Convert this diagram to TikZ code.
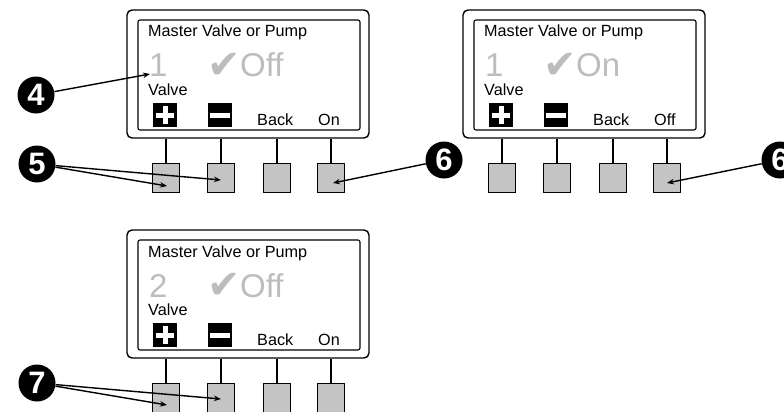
\documentclass[tikz,border=0pt]{standalone}
\usepackage{fontspec}
\setmainfont{Liberation Sans}
\newfontfamily\dejavu{DejaVu Sans}
\usetikzlibrary{arrows.meta}
\definecolor{lcdgray}{HTML}{BDBDBD}
\definecolor{btngray}{HTML}{C4C4C4}
\tikzset{
  outerframe/.style={draw, line width=1.4pt, rounded corners=5pt, minimum width=242pt, minimum height=128pt, inner sep=0pt},
  innerframe/.style={draw, line width=1.1pt, rounded corners=2pt, minimum width=222pt, minimum height=110pt, inner sep=0pt},
  btn/.style={draw, line width=1.1pt, fill=btngray, minimum width=27pt, minimum height=29pt, inner sep=0pt},
  stem/.style={line width=1.1pt},
  iconbox/.style={fill=black, minimum width=24pt, minimum height=24pt, inner sep=0pt},
  lbl/.style={anchor=base west, inner sep=0pt, font=\fontsize{16.2}{18}\selectfont},
  big/.style={anchor=base west, inner sep=0pt, text=lcdgray, font=\fontsize{33}{36}\selectfont},
  chk/.style={anchor=base west, inner sep=0pt, text=lcdgray, font=\dejavu\fontsize{40}{42}\selectfont},
  badge/.style={circle, fill=black, text=white, minimum size=37pt, inner sep=0pt, font=\fontsize{31}{32}\selectfont\bfseries},
  arr/.style={line width=1.4pt, -{Stealth[length=7pt,width=5.5pt]}}
}
\newcommand\mvpanel[6]{%
\begin{scope}[shift={(#2,#3)}]
  \node[outerframe] (#1frame) at (248,74) {};
  \node[innerframe] (#1screen) at (249,75) {};
  \node[lbl] (#1title) at (148,37) {Master Valve or Pump};
  \node[big] (#1num) at (149,77) {#4};
  \node[chk] (#1chk) at (207,78) {✔};
  \node[big] (#1stat) at (240,77) {#5};
  \node[lbl] (#1valve) at (148,95) {Valve};
  \node[iconbox] (#1plus) at (165,115) {};
  \draw[white, line width=5pt] ([xshift=-9pt]#1plus.center) -- ([xshift=9pt]#1plus.center);
  \draw[white, line width=5pt] ([yshift=-9pt]#1plus.center) -- ([yshift=9pt]#1plus.center);
  \node[iconbox] (#1minus) at (220,115) {};
  \draw[white, line width=5pt] ([xshift=-10pt]#1minus.center) -- ([xshift=10pt]#1minus.center);
  \node[lbl] (#1back) at (257,125) {Back};
  \node[lbl] (#1right) at (318,125) {#6};
  \node[btn] (#1k1) at (166,178) {};
  \node[btn] (#1k2) at (221,178) {};
  \node[btn] (#1k3) at (277,178) {};
  \node[btn] (#1k4) at (331,178) {};
  \foreach \k in {1,2,3,4} {\draw[stem] (#1k\k.north) -- (#1k\k.north |- #1frame.south);}
\end{scope}}
\begin{document}
\begin{tikzpicture}[x=1pt,y=-1pt]
\useasboundingbox (0,0) rectangle (784,412);
\mvpanel{pa}{0}{0}{1}{Off}{On}
\mvpanel{pb}{336}{0}{1}{On}{Off}
\mvpanel{pc}{0}{220}{2}{Off}{On}
\node[badge] (n4) at (36,95) {4};
\node[badge] (n5) at (37,164) {5};
\node[badge] (n6a) at (444,160) {6};
\node[badge] (n6b) at (780,160) {6};
\node[badge] (n7) at (37,383) {7};
\coordinate (t4) at (150,74);
\coordinate (t5a) at (167,186);
\coordinate (t5b) at (221,180);
\coordinate (t6a) at (333,183);
\coordinate (t6b) at (667,183);
\coordinate (t7a) at (167,405);
\coordinate (t7b) at (221,399);
\draw[arr] (n4) -- (t4);
\draw[arr] (n5) -- (t5a);
\draw[arr] (n5) -- (t5b);
\draw[arr] (n6a) -- (t6a);
\draw[arr] (n6b) -- (t6b);
\draw[arr] (n7) -- (t7a);
\draw[arr] (n7) -- (t7b);
\end{tikzpicture}
\end{document}
